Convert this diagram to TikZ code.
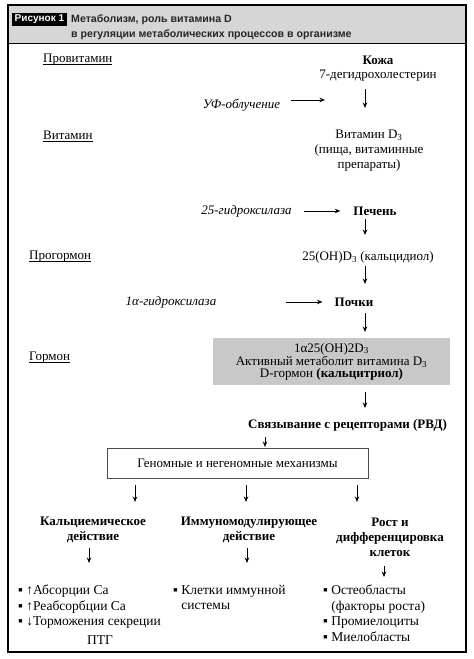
\documentclass[tikz,border=0pt]{standalone}
\usepackage{fontspec}
\setmainfont{Liberation Serif}
\setsansfont{Liberation Sans}
\usetikzlibrary{arrows.meta}
\definecolor{headgray}{HTML}{D6D6D6}
\definecolor{boxgray}{HTML}{C8C8C8}
\newcommand\myul[1]{\setbox0\hbox{#1}\rlap{\rule[-1.6pt]{\wd0}{0.55pt}}\box0}
\begin{document}
\begin{tikzpicture}[x=1pt,y=-1pt,
  txt/.style={font=\fontsize{13}{15}\selectfont, inner sep=0pt, align=center},
  bld/.style={inner sep=0pt, align=center, font=\fontsize{13}{15}\selectfont\bfseries},
  itl/.style={inner sep=0pt, align=center, font=\fontsize{13}{15}\selectfont\itshape},
  lbl/.style={inner sep=0pt, anchor=west, font=\fontsize{13}{15}\selectfont},
  lst/.style={inner sep=0pt, anchor=north west, align=left, font=\fontsize{13.5}{15.5}\selectfont},
  arr/.style={line width=0.9pt, -{Stealth[length=5.5pt,width=4.5pt]}},
]
\useasboundingbox (0,0) rectangle (474,659);
\fill[white] (0,0) rectangle (474,659);
% header band and frame
\fill[headgray] (8,5) rectangle (466,43);
\draw[line width=0.8pt] (8,43) -- (466,43);
\draw[line width=1.3pt] (8,5) rectangle (466,652);
\node[fill=black, text=white, inner sep=2.5pt, anchor=west,
  font=\sffamily\bfseries\fontsize{10}{12}\selectfont] (fig) at (12,19.5) {Рисунок 1};
\node[anchor=north west, inner sep=0pt, align=left, text=black!85,
  font=\sffamily\bfseries\fontsize{10.6}{15}\selectfont] (title) at (71,14.5)
  {Метаболизм, роль витамина D\\в регуляции метаболических процессов в организме};
% left stage labels
\node[lbl] (prov) at (43,60) {\myul{Провитамин}};
\node[lbl] (vit) at (43,136) {\myul{Витамин}};
\node[lbl] (progorm) at (29,257) {\myul{Прогормон}};
\node[lbl] (gorm) at (29,358) {\myul{Гормон}};
% main chain
\node[bld] (kozha) at (378,60) {Кожа};
\node[txt] (dehydro) at (378,76) {7-дегидрохолестерин};
\node[itl] (uv) at (241.5,105) {УФ-облучение};
\node[txt] (vitd3) at (369,151) {Витамин D\textsubscript{3}\\(пища, витаминные\\препараты)};
\node[itl] (hydr25) at (246.5,211) {25-гидроксилаза};
\node[bld] (liver) at (375,211) {Печень};
\node[txt] (calcidiol) at (368,257) {25(OH)D\textsubscript{3} (кальцидиол)};
\node[itl] (hydr1a) at (171,302) {1α-гидроксилаза};
\node[bld] (kidney) at (354,302) {Почки};
\node[fill=boxgray, inner sep=0pt, minimum width=237pt, minimum height=47pt, align=center,
  font=\fontsize{13}{12}\selectfont] (hormone) at (331.5,361.5)
  {1α25(OH)2D\textsubscript{3}\\Активный метаболит витамина D\textsubscript{3}\\D-гормон \textbf{(кальцитриол)}};
\node[bld] (binding) at (347.5,425) {Связывание с рецепторами (РВД)};
\node[draw=black!70, line width=0.7pt, inner sep=0pt, minimum width=261pt, minimum height=30pt,
  font=\fontsize{13}{15}\selectfont] (mech) at (237.5,463) {Геномные и негеномные механизмы};
\node[bld] (ca) at (93,530) {Кальциемическое\\действие};
\node[bld] (imm) at (249,530) {Иммуномодулирующее\\действие};
\node[bld] (growth) at (390,537) {Рост и\\дифференцировка\\клеток};
\node[lst] (list1) at (18,585) {▪ ↑Абсорции Ca\\▪ ↑Реабсорбции Ca\\▪ ↓Торможения секреции};
\node[txt, font=\fontsize{13.5}{15}\selectfont] (ptg) at (100,640) {ПТГ};
\node[lst] (list2) at (173,585) {▪ Клетки иммунной\\\hphantom{▪ }системы};
\node[lst] (list3) at (323,585) {▪ Остеобласты\\\hphantom{▪ }(факторы роста)\\▪ Промиелоциты\\▪ Миелобласты};
% horizontal arrows
\coordinate (uvs) at (291,100);
\coordinate (uve) at (325,100);
\draw[arr] (uvs) -- (uve);
\draw[arr, shorten <=12pt, shorten >=13pt] (hydr25) -- (liver);
\draw[arr, shorten <=70pt, shorten >=12pt] (hydr1a) -- (kidney);
% vertical arrows
\foreach \n/\xa/\ya/\yb in {v1/365/89/108, v2/365/219/235, v3/365/266/284, v4/365/313/332,
  v5/365/392/408, v6/265/437/447, v7/135/485/502, v8/246/485/502, v9/357/485/502,
  v10/89/548/563, v11/247/548/563, v12/384/566/577}{
  \coordinate (\n s) at (\xa,\ya);
  \coordinate (\n e) at (\xa,\yb);
  \draw[arr] (\n s) -- (\n e);
}
\end{tikzpicture}
\end{document}
